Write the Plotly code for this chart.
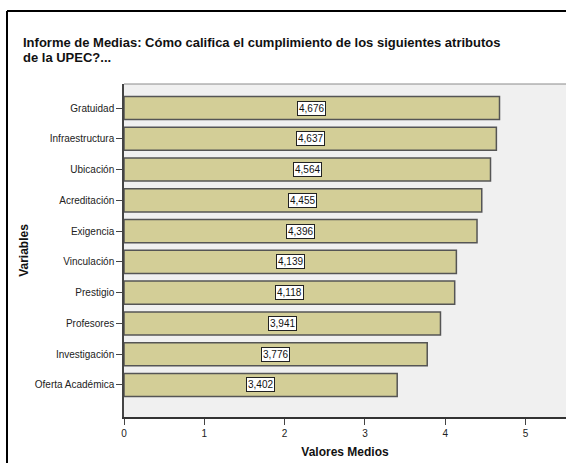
import plotly.graph_objects as go

# Mean ratings per attribute (top to bottom as displayed)
categories = ["Gratuidad", "Infraestructura", "Ubicación", "Acreditación", "Exigencia",
              "Vinculación", "Prestigio", "Profesores", "Investigación", "Oferta Académica"]
means = [4.676, 4.637, 4.564, 4.455, 4.396, 4.139, 4.118, 3.941, 3.776, 3.402]
x_ticks = [0, 1, 2, 3, 4, 5]

title_lines = ["Informe de Medias: Cómo califica el cumplimiento de los siguientes atributos",
               "de la UPEC?..."]

FONT = "Liberation Sans, Arial, sans-serif"
PLOT_TOP, PLOT_BOTTOM = 84, 417  # plot area edges in px


def paper_y(px):
    return (PLOT_BOTTOM - px) / (PLOT_BOTTOM - PLOT_TOP)


fig = go.Figure()
fig.add_trace(go.Bar(
    x=means, y=categories, orientation="h",
    marker=dict(color="#D3CE97", line=dict(color="#555555", width=1.5)),
    width=0.75, hoverinfo="x+y",
))

# boxed value labels centred on each bar
for cat, v in zip(categories, means):
    fig.add_annotation(
        x=v / 2, y=cat, xref="x", yref="y",
        text=f"{v:.3f}".replace(".", ","), showarrow=False,
        font=dict(family=FONT, size=10, color="#111111"),
        bgcolor="white", bordercolor="#222222", borderwidth=1, borderpad=1,
    )

# two-line title with tight line spacing
for i, line in enumerate(title_lines):
    fig.add_annotation(
        x=-0.233, y=paper_y(42.5 + 15 * i), xref="paper", yref="paper",
        xanchor="left", yanchor="middle",
        text=f"<b>{line}</b>", showarrow=False, align="left",
        font=dict(family=FONT, size=13, color="#111111"),
    )

# outer chart frame (left and top edges)
fig.add_shape(type="line", xref="paper", yref="paper", x0=-0.2647, x1=1.2,
              y0=paper_y(11), y1=paper_y(11), line=dict(color="black", width=2))
fig.add_shape(type="line", xref="paper", yref="paper", x0=-0.2647, x1=-0.2647,
              y0=paper_y(11), y1=-0.3, line=dict(color="black", width=2))
# light top edge of the plot area
fig.add_shape(type="line", xref="paper", yref="paper", x0=0, x1=1.05,
              y0=1, y1=1, line=dict(color="#8a8a8a", width=1))

fig.update_layout(
    width=566, height=463,
    margin=dict(l=124, r=0, t=PLOT_TOP, b=463 - PLOT_BOTTOM),
    paper_bgcolor="white", plot_bgcolor="#F0F0F0",
    showlegend=False, bargap=0.25,
    font=dict(family=FONT, size=10, color="#222222"),
    xaxis=dict(
        range=[0, 5.504], tickvals=x_ticks, ticktext=[str(t) for t in x_ticks],
        showgrid=False, zeroline=False, showline=True, linecolor="#333333", linewidth=1.5,
        mirror=False, ticks="outside", ticklen=6, tickcolor="#444444",
        tickfont=dict(family=FONT, size=10, color="#222222"),
        title=dict(text="<b>Valores Medios</b>", font=dict(family=FONT, size=12, color="#111111"),
                   standoff=10),
    ),
    yaxis=dict(
        categoryorder="array", categoryarray=categories[::-1],
        range=[-1.04, 9.78],
        showgrid=False, zeroline=False, showline=True, linecolor="#444444", linewidth=1.5,
        mirror=False, ticks="outside", ticklen=6, tickcolor="#444444",
        tickfont=dict(family=FONT, size=10, color="#222222"),
        title=dict(text="<b>Variables</b>", font=dict(family=FONT, size=12, color="#111111"),
                   standoff=4),
    ),
)

fig.write_html("out.html")
